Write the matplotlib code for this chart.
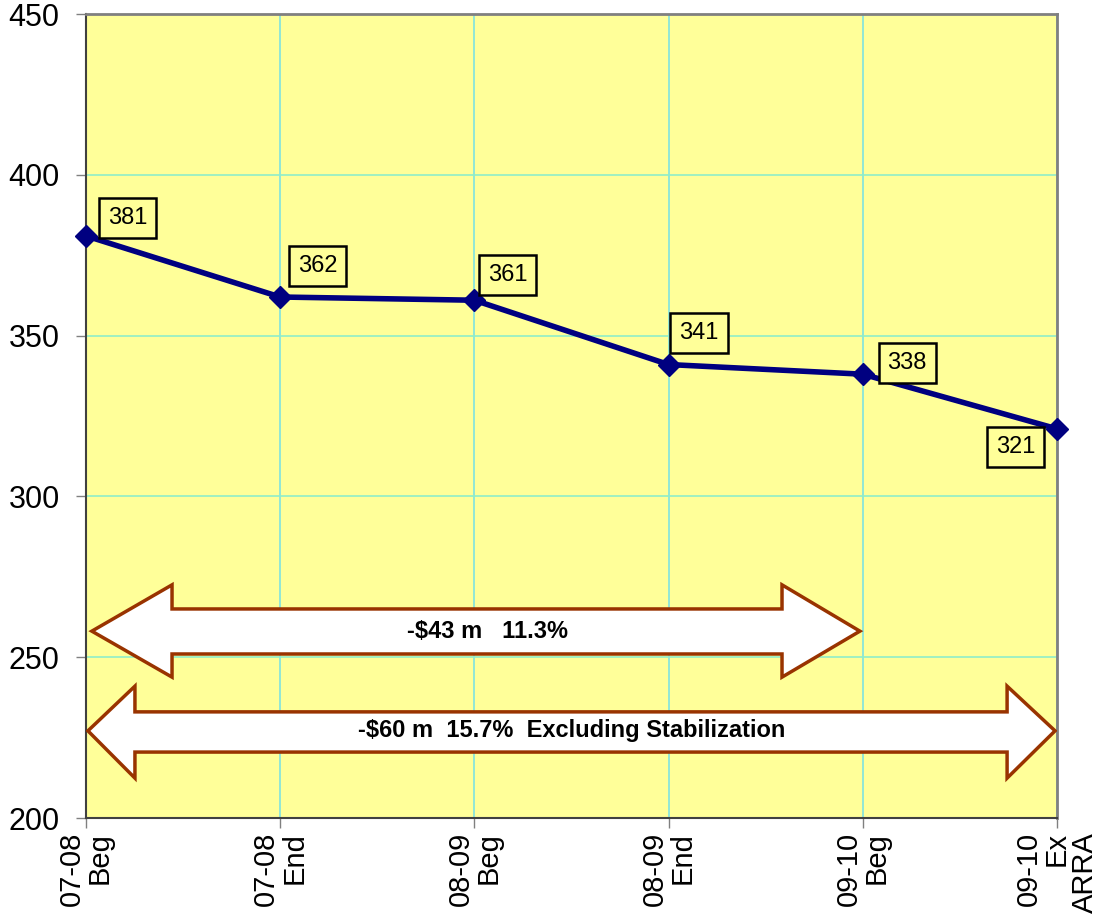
import matplotlib
matplotlib.use('Agg')
import matplotlib.pyplot as plt
from matplotlib.patches import Polygon

plt.rcParams['font.family'] = ['Liberation Sans', 'DejaVu Sans']

# data
periods = ['07-08\nBeg', '07-08\nEnd', '08-09\nBeg', '08-09\nEnd', '09-10\nBeg', '09-10\nEx\nARRA']
values = [381, 362, 361, 341, 338, 321]
# label offsets in points (dx, dy) relative to each marker
lbl_offsets = [(30, 13), (27, 22), (24, 18), (22, 23), (32, 8), (-30, -13)]

arrow_texts = ['-$43 m   11.3%', '-$60 m  15.7%  Excluding Stabilization']

fig = plt.figure(figsize=(11.08, 9.23), dpi=100)
ax = fig.add_axes([86/1108, 1-818/923, (1057-86)/1108, (818-14)/923])
ax.set_facecolor('#FFFF99')

x = list(range(len(values)))
ax.plot(x, values, color='#000080', lw=4, marker='D', ms=11, zorder=5, clip_on=False)

for xi, v, (dx, dy) in zip(x, values, lbl_offsets):
    ax.annotate(str(v), (xi, v), xytext=(dx, dy), textcoords='offset points',
                ha='center', va='center', fontsize=17, zorder=6,
                bbox=dict(boxstyle='square,pad=0.38', fc='#FFFF99', ec='black', lw=1.8))


def block_arrow(x0, x1, xb0, xb1, ys0, ys1, yh0, yh1, yc):
    pts = [(x0, yc), (xb0, yh1), (xb0, ys1), (xb1, ys1), (xb1, yh1), (x1, yc),
           (xb1, yh0), (xb1, ys0), (xb0, ys0), (xb0, yh0)]
    ax.add_patch(Polygon(pts, closed=True, fc='white', ec='#993300', lw=2.5, zorder=4))


block_arrow(0.03, 3.985, 0.443, 3.584, 251, 265, 243.8, 272.5, 258.1)
block_arrow(0.01, 4.99, 0.252, 4.743, 220.5, 233, 212.4, 241, 227.1)
ax.text(2.065, 258.1, arrow_texts[0], ha='center', va='center', fontsize=17,
        fontweight='bold', zorder=5)
ax.text(2.5, 227.1, arrow_texts[1], ha='center', va='center', fontsize=17,
        fontweight='bold', zorder=5)

ax.set_xlim(0, 5)
ax.set_ylim(200, 450)
ax.set_yticks([200, 250, 300, 350, 400, 450])
ax.set_xticks(x)
ax.set_xticklabels(periods, rotation=90, fontsize=21, va='top', ha='center',
                   multialignment='right', linespacing=1.0)
ax.tick_params(axis='y', labelsize=22, direction='out', length=7, width=1,
               color='#808080', pad=12)
ax.tick_params(axis='x', direction='out', length=7, width=1, color='#808080', pad=3)

ax.grid(True, axis='x', color='#7FE3E0', lw=1.2, zorder=0)
ax.grid(True, axis='y', color='#90EEC8', lw=1.2, zorder=0)
ax.set_axisbelow(True)

for s in ['top', 'right']:
    ax.spines[s].set_color('#808080')
    ax.spines[s].set_linewidth(2)
for s in ['left', 'bottom']:
    ax.spines[s].set_color('#404040')
    ax.spines[s].set_linewidth(1.5)

fig.savefig('out.png', dpi=100)
